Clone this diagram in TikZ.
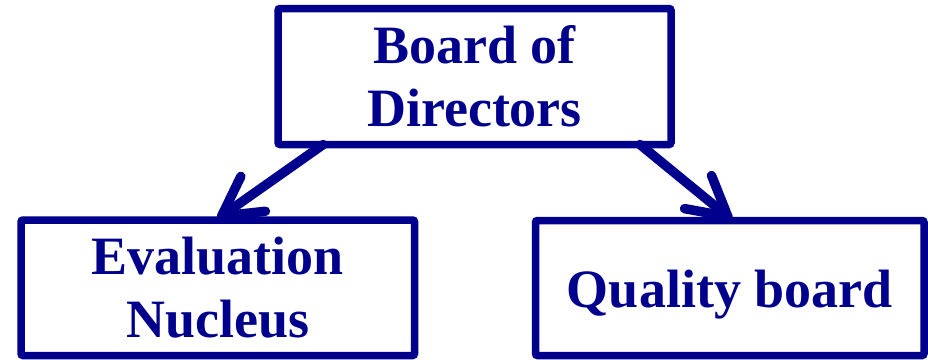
\documentclass[tikz,border=0pt]{standalone}
\usepackage{fontspec}
\setmainfont{Liberation Serif}
\usetikzlibrary{calc}
\definecolor{navyc}{RGB}{0,0,140}
\begin{document}
\begin{tikzpicture}[x=1pt,y=-1pt,
  boxn/.style={draw=navyc, line width=7.5pt, rounded corners=2pt, inner sep=0pt, outer sep=0pt,
    text=navyc, font=\fontsize{54}{63.5}\selectfont\bfseries, align=center},
  arr/.style={draw=navyc, line width=9.5pt, line cap=round, line join=round}]
\useasboundingbox (0,0) rectangle (928,359);
\node[boxn, minimum width=393pt, minimum height=136pt] (top) at (474.5,76.5) {Board of\\Directors};
\node[boxn, minimum width=393.5pt, minimum height=135.5pt] (left) at (217.75,287.75) {Evaluation\\Nucleus};
\node[boxn, minimum width=388.5pt, minimum height=135pt, text height=38pt, text depth=0pt] (right) at (729.75,288) {Quality board};
\coordinate (ls) at ($(top.south west)!0.115!(top.south east)$);
\coordinate (rs) at ($(top.south west)!0.921!(top.south east)$);
\coordinate (le) at ($(left.north west)!0.51!(left.north east)+(0,-4)$);
\coordinate (re) at ($(right.north west)!0.495!(right.north east)+(0,-4)$);
\draw[arr] (ls) -- (le);
\draw[arr] ($(le)!44pt!29:(ls)$) -- (le) -- ($(le)!44pt!-29:(ls)$);
\draw[arr] (rs) -- (re);
\draw[arr] ($(re)!44pt!29:(rs)$) -- (re) -- ($(re)!44pt!-29:(rs)$);
\end{tikzpicture}
\end{document}
